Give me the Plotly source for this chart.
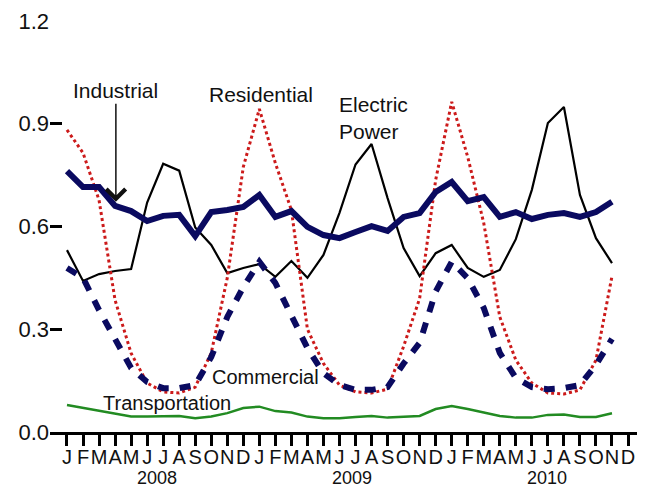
import plotly.graph_objects as go

months = ["J", "F", "M", "A", "M", "J", "J", "A", "S", "O", "N", "D"]
tick_labels = months * 3
years = ["2008", "2009", "2010"]
year_pos = [5.6, 17.78, 29.94]

industrial = [0.762, 0.715, 0.715, 0.660, 0.645, 0.616, 0.631, 0.634, 0.572, 0.642, 0.648, 0.657,
              0.692, 0.628, 0.645, 0.599, 0.575, 0.566, 0.584, 0.601, 0.587, 0.628, 0.639, 0.701,
              0.730, 0.674, 0.686, 0.628, 0.642, 0.622, 0.634, 0.639, 0.628, 0.642, 0.672]
electric = [0.531, 0.441, 0.461, 0.470, 0.476, 0.670, 0.783, 0.763, 0.597, 0.546, 0.464, 0.479,
            0.490, 0.453, 0.499, 0.450, 0.517, 0.640, 0.781, 0.841, 0.683, 0.537, 0.455, 0.522,
            0.546, 0.479, 0.453, 0.473, 0.563, 0.707, 0.902, 0.949, 0.692, 0.566, 0.493]
residential = [0.882, 0.815, 0.677, 0.385, 0.230, 0.143, 0.117, 0.114, 0.131, 0.231, 0.450, 0.774,
               0.943, 0.785, 0.648, 0.300, 0.200, 0.137, 0.117, 0.114, 0.125, 0.250, 0.390, 0.736,
               0.964, 0.803, 0.610, 0.336, 0.210, 0.143, 0.114, 0.111, 0.123, 0.210, 0.455]
commercial = [0.479, 0.450, 0.356, 0.269, 0.187, 0.146, 0.128, 0.128, 0.137, 0.219, 0.336, 0.423,
              0.497, 0.435, 0.336, 0.245, 0.172, 0.137, 0.123, 0.123, 0.131, 0.200, 0.260, 0.410,
              0.497, 0.449, 0.362, 0.231, 0.158, 0.131, 0.125, 0.128, 0.137, 0.196, 0.272]
transportation = [0.079, 0.070, 0.061, 0.053, 0.045, 0.045, 0.047, 0.047, 0.040, 0.045, 0.055, 0.070,
                  0.074, 0.061, 0.057, 0.045, 0.040, 0.040, 0.044, 0.047, 0.042, 0.044, 0.047, 0.067,
                  0.076, 0.067, 0.058, 0.047, 0.042, 0.042, 0.050, 0.051, 0.044, 0.044, 0.055]

x = list(range(len(industrial)))
FONT = "Liberation Sans, Arial, sans-serif"

fig = go.Figure()
fig.add_trace(go.Scatter(x=x, y=electric, mode="lines", line=dict(color="#000000", width=2.2), name="Electric Power"))
fig.add_trace(go.Scatter(x=x, y=residential, mode="lines", line=dict(color="#cc1a1a", width=3, dash="3px,3px"), name="Residential"))
fig.add_trace(go.Scatter(x=x, y=commercial, mode="lines", line=dict(color="#0a0a60", width=6, dash="11px,11px"), name="Commercial"))
fig.add_trace(go.Scatter(x=x, y=industrial, mode="lines", line=dict(color="#0a0a60", width=6), name="Industrial"))
fig.add_trace(go.Scatter(x=x, y=transportation, mode="lines", line=dict(color="#228b22", width=2.5), name="Transportation"))

ann_font = dict(family=FONT, size=21, color="#111111")
small_font = dict(family=FONT, size=20, color="#111111")
annotations = [
    dict(x=3.05, y=0.672, ax=3.05, ay=0.996, axref="x", ayref="y", text="Industrial",
         showarrow=True, arrowhead=4, arrowsize=2.5, arrowwidth=1.5, arrowcolor="#111111", font=ann_font),
    dict(x=12.1, y=0.984, text="Residential", showarrow=False, font=ann_font),
    dict(x=16.84, y=0.918, text="Electric<br>Power", showarrow=False, xanchor="left", align="left", font=ann_font),
    dict(x=12.41, y=0.161, text="Commercial", showarrow=False, font=small_font),
    dict(x=6.24, y=0.085, text="Transportation", showarrow=False, font=small_font),
]
for yr, pos in zip(years, year_pos):
    annotations.append(dict(x=pos, y=-0.112, xref="x", yref="paper", yanchor="middle", text=yr, showarrow=False,
                            font=dict(family=FONT, size=18, color="#111111")))

fig.update_layout(
    width=639, height=481,
    margin=dict(l=42, r=10, t=13, b=57),
    paper_bgcolor="white", plot_bgcolor="white",
    showlegend=False,
    template="none",
    annotations=annotations,
    font=dict(family=FONT, color="#111111"),
)
fig.update_xaxes(
    range=[-1.06, 35.56], tickmode="array", tickvals=list(range(36)), ticktext=tick_labels,
    tickangle=0, ticklabelstandoff=-6,
    showgrid=False, zeroline=False, showline=True, linecolor="#000000", linewidth=3,
    ticks="outside", ticklen=11, tickwidth=3, tickcolor="#000000",
    tickfont=dict(family=FONT, size=20, color="#111111"), automargin=False,
)
fig.update_yaxes(
    range=[0, 1.2], tickmode="array", tickvals=[0, 0.3, 0.6, 0.9, 1.2],
    ticktext=["0.0", "0.3", "0.6", "0.9", "1.2"],
    showgrid=False, zeroline=False, showline=False,
    ticks="inside", ticklen=12, tickwidth=3, tickcolor="#000000",
    tickfont=dict(family=FONT, size=22, color="#111111"), automargin=False,
)

fig.write_html("out.html")
